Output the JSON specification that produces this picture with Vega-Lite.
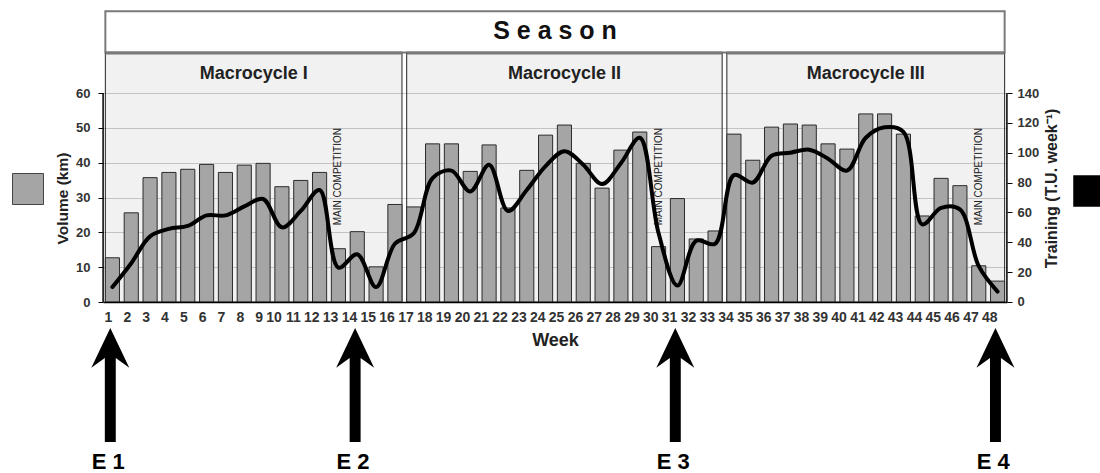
{
  "$schema": "https://vega.github.io/schema/vega-lite/v6.json",
  "width": 904,
  "height": 463,
  "autosize": {"type": "none"},
  "padding": {"left": 103, "top": 10, "right": 93, "bottom": 0},
  "background": "white",
  "config": {"view": {"stroke": null}, "font": "Liberation Sans"},
  "datasets": {
    "weeks": [
      {"week": 1, "volume": 12.7, "training": 10},
      {"week": 2, "volume": 25.6, "training": 26},
      {"week": 3, "volume": 35.7, "training": 44},
      {"week": 4, "volume": 37.2, "training": 49},
      {"week": 5, "volume": 38.1, "training": 51},
      {"week": 6, "volume": 39.5, "training": 58},
      {"week": 7, "volume": 37.2, "training": 58},
      {"week": 8, "volume": 39.3, "training": 64},
      {"week": 9, "volume": 39.8, "training": 69},
      {"week": 10, "volume": 33.1, "training": 50},
      {"week": 11, "volume": 34.9, "training": 61},
      {"week": 12, "volume": 37.2, "training": 75},
      {"week": 13, "volume": 15.3, "training": 23},
      {"week": 14, "volume": 20.2, "training": 32},
      {"week": 15, "volume": 10.1, "training": 10},
      {"week": 16, "volume": 28.0, "training": 39},
      {"week": 17, "volume": 27.3, "training": 46},
      {"week": 18, "volume": 45.4, "training": 83},
      {"week": 19, "volume": 45.4, "training": 88},
      {"week": 20, "volume": 37.5, "training": 74},
      {"week": 21, "volume": 45.1, "training": 92},
      {"week": 22, "volume": 27.0, "training": 61},
      {"week": 23, "volume": 37.8, "training": 75},
      {"week": 24, "volume": 47.9, "training": 91},
      {"week": 25, "volume": 50.8, "training": 101},
      {"week": 26, "volume": 39.8, "training": 92},
      {"week": 27, "volume": 32.7, "training": 79},
      {"week": 28, "volume": 43.6, "training": 93},
      {"week": 29, "volume": 48.8, "training": 110},
      {"week": 30, "volume": 15.9, "training": 46},
      {"week": 31, "volume": 29.7, "training": 11},
      {"week": 32, "volume": 18.1, "training": 41},
      {"week": 33, "volume": 20.4, "training": 39},
      {"week": 34, "volume": 48.2, "training": 85},
      {"week": 35, "volume": 40.7, "training": 80},
      {"week": 36, "volume": 50.2, "training": 98},
      {"week": 37, "volume": 51.1, "training": 100},
      {"week": 38, "volume": 50.8, "training": 102},
      {"week": 39, "volume": 45.4, "training": 96},
      {"week": 40, "volume": 43.9, "training": 88},
      {"week": 41, "volume": 54.0, "training": 110},
      {"week": 42, "volume": 54.0, "training": 117},
      {"week": 43, "volume": 48.2, "training": 114},
      {"week": 44, "volume": 24.7, "training": 52},
      {"week": 45, "volume": 35.5, "training": 63},
      {"week": 46, "volume": 33.4, "training": 62},
      {"week": 47, "volume": 10.4, "training": 24},
      {"week": 48, "volume": 6.0, "training": 7}
    ],
    "season": [{"start": 1, "end": 48, "center": 25, "label": "S e a s o n"}],
    "panels": [
      {"name": "Macrocycle I", "start": 1, "end": 16},
      {"name": "Macrocycle II", "start": 17, "end": 33},
      {"name": "Macrocycle III", "start": 34, "end": 48}
    ],
    "titleI": [{"name": "Macrocycle I", "center": 9}],
    "titlesII": [
      {"name": "Macrocycle II", "center": 25},
      {"name": "Macrocycle III", "center": 41}
    ],
    "comps": [
      {"week": 13, "label": "MAIN COMPETITION"},
      {"week": 30, "label": "MAIN COMPETITION"},
      {"week": 47, "label": "MAIN COMPETITION"}
    ],
    "events": [
      {"week": 1, "label": "E 1"},
      {"week": 14, "label": "E 2"},
      {"week": 31, "label": "E 3"},
      {"week": 48, "label": "E 4"}
    ]
  },
  "layer": [
    {
      "layer": [
        {
          "data": {"name": "season"},
          "mark": {"type": "rect", "fill": "white", "stroke": "#7a7a7a", "strokeWidth": 2},
          "encoding": {
            "x": {"field": "start", "type": "ordinal", "bandPosition": 0},
            "x2": {"field": "end", "bandPosition": 1},
            "y": {"datum": 83.5, "type": "quantitative"},
            "y2": {"datum": 71.6}
          }
        },
        {
          "data": {"name": "panels"},
          "mark": {"type": "rect", "fill": "#000", "fillOpacity": 0.055, "stroke": "#222", "strokeWidth": 1},
          "encoding": {
            "x": {"field": "start", "type": "ordinal", "bandPosition": 0},
            "x2": {"field": "end", "bandPosition": 1},
            "y": {"datum": 71.5, "type": "quantitative"},
            "y2": {"datum": 0}
          }
        },
        {
          "data": {"name": "panels"},
          "mark": {"type": "rule", "stroke": "#7a7a7a", "strokeWidth": 3},
          "encoding": {
            "x": {"field": "start", "type": "ordinal", "bandPosition": 0},
            "x2": {"field": "end", "bandPosition": 1},
            "y": {"datum": 71.5, "type": "quantitative"}
          }
        },
        {
          "data": {"name": "weeks"},
          "mark": {"type": "bar", "stroke": "#2b2b2b", "strokeWidth": 1},
          "encoding": {
            "x": {
              "field": "week", "type": "ordinal",
              "scale": {"paddingInner": 0.25, "paddingOuter": 0.125},
              "axis": {
                "title": "Week", "orient": "bottom", "offset": -171,
                "labelAngle": 0, "labelFontSize": 14, "labelFontWeight": "bold", "labelColor": "#333",
                "labelPadding": 15, "ticks": false, "domainColor": "#000", "domainWidth": 1.5,
                "titleFontSize": 18, "titleFontWeight": "bold", "titleColor": "#222", "titlePadding": 7,
                "labelOverlap": false, "grid": false
              }
            },
            "y": {
              "field": "volume", "type": "quantitative",
              "scale": {"domain": [-49.09, 83.83], "nice": false, "zero": false},
              "axis": {
                "title": "Volume (km)", "values": [0, 10, 20, 30, 40, 50, 60],
                "domain": false, "grid": true, "gridColor": "#cfcfcf",
                "labelFontSize": 13, "labelFontWeight": "bold", "labelColor": "#333", "labelPadding": 8,
                "tickColor": "#000", "tickSize": 5,
                "titleFontSize": 15.5, "titleFontWeight": "bold", "titleColor": "#222", "titlePadding": 5,
                "titleY": 188
              }
            },
            "fill": {
              "datum": "Volume (km)", "type": "nominal",
              "scale": {"range": ["#a5a5a5"]},
              "legend": {
                "orient": "none", "legendX": -91, "legendY": 163, "padding": 0, "title": null,
                "symbolType": "square", "symbolSize": 961, "symbolStrokeColor": "#444", "symbolStrokeWidth": 1,
                "symbolOpacity": 1, "labelExpr": "''", "labelFontSize": 1
              }
            }
          }
        },
        {
          "data": {"values": [{"week": 1}]},
          "mark": {"type": "rule", "stroke": "#000", "strokeWidth": 1.5},
          "encoding": {
            "x": {"field": "week", "type": "ordinal", "bandPosition": -0.16},
            "y": {"datum": 0, "type": "quantitative"},
            "y2": {"datum": 60}
          }
        },
        {
          "data": {"values": [{"week": 48}]},
          "mark": {"type": "rule", "stroke": "#000", "strokeWidth": 1.5},
          "encoding": {
            "x": {"field": "week", "type": "ordinal", "bandPosition": 1.16},
            "y": {"datum": 0, "type": "quantitative"},
            "y2": {"datum": 60}
          }
        },
        {
          "data": {"name": "comps"},
          "mark": {"type": "text", "angle": 270, "fontSize": 10, "color": "#222", "align": "center", "baseline": "middle"},
          "encoding": {
            "x": {"field": "week", "type": "ordinal"},
            "y": {"datum": 36, "type": "quantitative"},
            "text": {"field": "label"}
          }
        },
        {
          "data": {"name": "titleI"},
          "mark": {"type": "text", "fontSize": 18, "fontWeight": "bold", "color": "#222", "align": "center", "baseline": "middle"},
          "encoding": {
            "x": {"field": "center", "type": "ordinal", "bandPosition": -0.166},
            "y": {"datum": 65.6, "type": "quantitative"},
            "text": {"field": "name"}
          }
        },
        {
          "data": {"name": "titlesII"},
          "mark": {"type": "text", "fontSize": 18, "fontWeight": "bold", "color": "#222", "align": "center", "baseline": "middle"},
          "encoding": {
            "x": {"field": "center", "type": "ordinal", "bandPosition": 0.5},
            "y": {"datum": 65.6, "type": "quantitative"},
            "text": {"field": "name"}
          }
        },
        {
          "data": {"name": "season"},
          "mark": {"type": "text", "fontSize": 25, "fontWeight": "bold", "color": "#111", "align": "center", "baseline": "middle"},
          "encoding": {
            "x": {"field": "center", "type": "ordinal", "bandPosition": -0.166},
            "y": {"datum": 77.8, "type": "quantitative"},
            "text": {"field": "label"}
          }
        },
        {
          "data": {"name": "events"},
          "mark": {"type": "point", "filled": true, "color": "#000", "opacity": 1, "size": 12996,
                   "shape": "M0,-1L0.333,-0.3L0.096,-0.47L0.096,1L-0.096,1L-0.096,-0.47L-0.333,-0.3Z"},
          "encoding": {
            "x": {"field": "week", "type": "ordinal", "bandPosition": 0.35},
            "y": {"datum": -23.8, "type": "quantitative"}
          }
        },
        {
          "data": {"name": "events"},
          "mark": {"type": "text", "fontSize": 22, "fontWeight": "bold", "color": "#000", "align": "center", "baseline": "middle"},
          "encoding": {
            "x": {"field": "week", "type": "ordinal", "bandPosition": 0.2},
            "y": {"datum": -45.8, "type": "quantitative"},
            "text": {"field": "label"}
          }
        }
      ]
    },
    {
      "data": {"name": "weeks"},
      "mark": {"type": "line", "interpolate": "catmull-rom", "strokeWidth": 4, "strokeCap": "round"},
      "encoding": {
        "x": {"field": "week", "type": "ordinal"},
        "y": {
          "field": "training", "type": "quantitative",
          "scale": {"domain": [-114.55, 195.6], "nice": false, "zero": false},
          "axis": {
            "orient": "right", "title": "Training (T.U. week⁻¹)", "values": [0, 20, 40, 60, 80, 100, 120, 140],
            "domain": false, "grid": false,
            "labelFontSize": 13, "labelFontWeight": "bold", "labelColor": "#333", "labelPadding": 5,
            "tickColor": "#000", "tickSize": 5,
            "titleFontSize": 16, "titleFontWeight": "bold", "titleColor": "#222", "titlePadding": 21,
            "titleAngle": 270, "titleY": 178
          }
        },
        "stroke": {
          "datum": "Training", "type": "nominal",
          "scale": {"range": ["#000"]},
          "legend": {
            "orient": "none", "legendX": 970, "legendY": 165, "padding": 0, "title": null,
            "symbolType": "square", "symbolSize": 900, "symbolFillColor": "#000", "symbolStrokeColor": "#000",
            "labelExpr": "''", "labelFontSize": 1
          }
        }
      }
    }
  ],
  "resolve": {"scale": {"y": "independent"}, "axis": {"y": "independent"}}
}
